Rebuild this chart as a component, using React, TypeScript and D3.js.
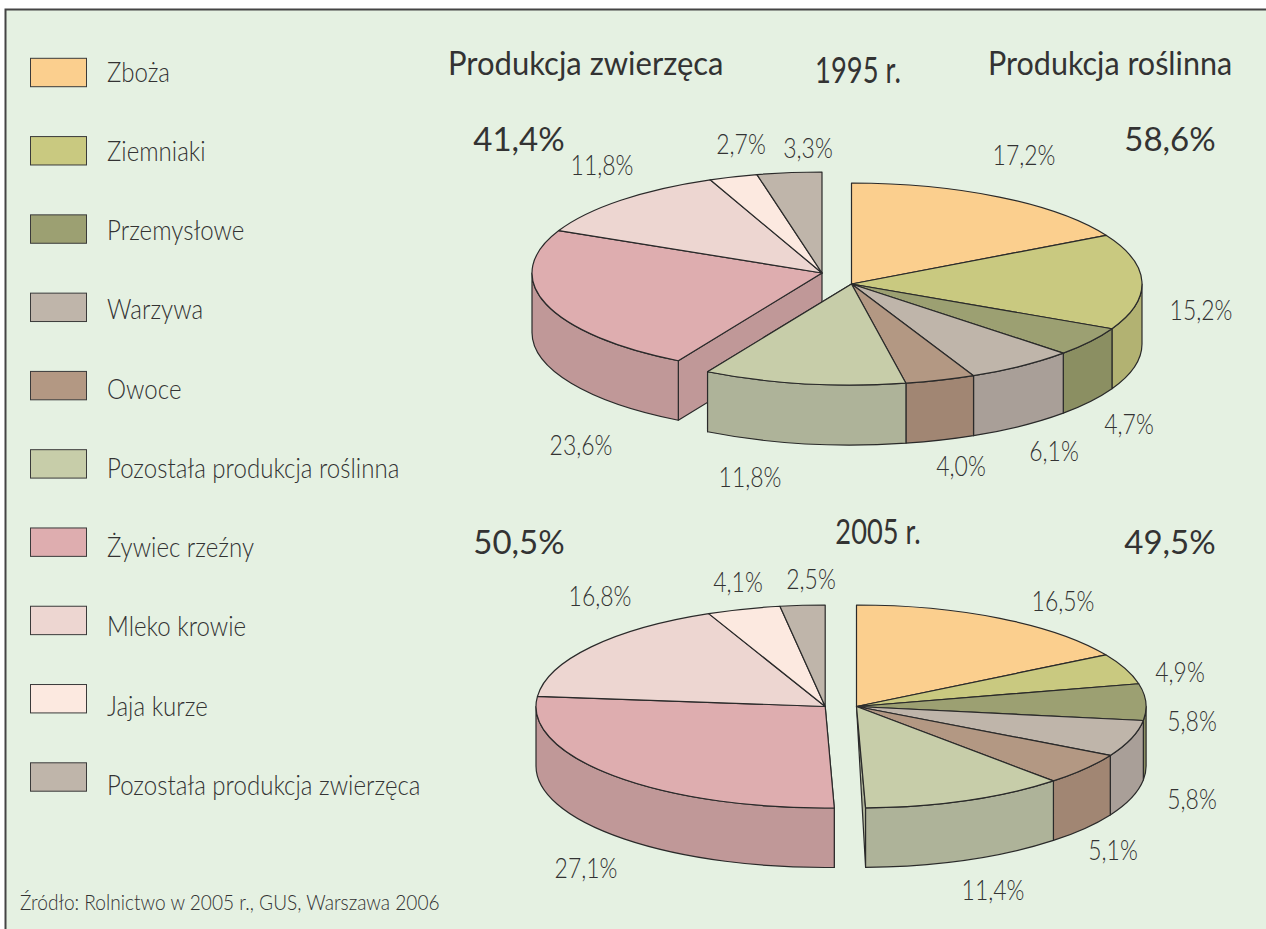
import React from "react";
import * as d3 from "d3";

const legendLabels = ["Zboża", "Ziemniaki", "Przemysłowe", "Warzywa", "Owoce", "Pozostała produkcja roślinna", "Żywiec rzeźny", "Mleko krowie", "Jaja kurze", "Pozostała produkcja zwierzęca"];
const topColors = ["#FBCF8E", "#C9C980", "#9CA072", "#BFB5AA", "#B39883", "#C7CDA9", "#DEADAF", "#EDD6D1", "#FCE9E0", "#BFB5AA"];
const wallColors = ["#E0B878", "#B2B272", "#8B8F62", "#A99F98", "#A18673", "#AEB399", "#C09898", "#D0BBB6", "#E0CFC6", "#A99F98"];

// slice sizes as drawn in the picture (printed percentages are in the label lists)
const plant1995 = [17.0, 15.3, 4.7, 6.1, 3.9, 11.25];
const animal1995 = [23.65, 11.8, 2.7, 3.6];
const plant2005 = [16.5, 4.9, 5.8, 5.8, 5.1, 11.4];
const animal2005 = [27.1, 16.8, 4.1, 2.5];

const labels1995 = ["17,2%", "15,2%", "4,7%", "6,1%", "4,0%", "11,8%", "23,6%", "11,8%", "2,7%", "3,3%"];
const labels2005 = ["16,5%", "4,9%", "5,8%", "5,8%", "5,1%", "11,4%", "27,1%", "16,8%", "4,1%", "2,5%"];
const labelPos1995 = [[1024, 165], [1201, 320], [1129, 434], [1054, 461], [961, 476], [750, 487], [581, 455], [602, 175], [741, 154], [808, 158]];
const labelPos2005 = [[1063, 611], [1180, 682], [1192, 731], [1192, 809], [1113, 860], [993, 900], [586, 878], [600, 606], [738, 592], [811, 589]];

const FONT = "Lato, 'Liberation Sans', sans-serif";
const INK = "#333333";
const angle = d3.scaleLinear().domain([0, 100]).range([0, 2 * Math.PI]);

type Geo = { cx: number; cy: number; rx: number; ry: number; depth: number };

function pt(g: Geo, a: number, down = 0): [number, number] {
  return [g.cx + g.rx * Math.sin(a), g.cy - g.ry * Math.cos(a) + down];
}
function topPath(g: Geo, a0: number, a1: number) {
  return `M${g.cx},${g.cy}L${pt(g, a0)}A${g.rx},${g.ry} 0 ${a1 - a0 > Math.PI ? 1 : 0} 1 ${pt(g, a1)}Z`;
}
function wallPath(g: Geo, a0: number, a1: number) {
  const s = Math.max(a0, Math.PI / 2);
  const e = Math.min(a1, (3 * Math.PI) / 2);
  if (e <= s) return null;
  const A = pt(g, s), B = pt(g, e), C = pt(g, e, g.depth), D = pt(g, s, g.depth);
  return `M${A}A${g.rx},${g.ry} 0 0 1 ${B}L${C}A${g.rx},${g.ry} 0 0 0 ${D}Z`;
}

function Group({ g, values, colorOffset, start, end, face }: { g: Geo; values: number[]; colorOffset: number; start: number; end: number; face: "end" | "start" }) {
  const arcs = d3.pie<number>().sort(null).value((d) => d).startAngle(start).endAngle(end)(values);
  const stroke = { stroke: "#2a2a2a", strokeWidth: 1.2, strokeLinejoin: "round" as const };
  const last = arcs[arcs.length - 1];
  const faceD = face === "start"
    ? `M${g.cx},${g.cy}L${pt(g, start)}L${pt(g, start, g.depth)}L${g.cx},${g.cy + g.depth}Z`
    : `M${g.cx},${g.cy}L${pt(g, last.endAngle)}L${pt(g, last.endAngle, g.depth)}Z`;
  const faceColor = face === "start" ? wallColors[colorOffset] : wallColors[colorOffset + arcs.length - 1];
  return (
    <g>
      <path d={faceD} fill={faceColor} {...stroke} />
      {arcs.map((a, i) => {
        const d = wallPath(g, a.startAngle, a.endAngle);
        return d ? <path key={i} d={d} fill={wallColors[colorOffset + i]} {...stroke} /> : null;
      })}
      {arcs.map((a, i) => (
        <path key={i} d={topPath(g, a.startAngle, a.endAngle)} fill={topColors[colorOffset + i]} {...stroke} />
      ))}
    </g>
  );
}

function Pie3D({ plant, animal, left, right }: { plant: number[]; animal: number[]; left: Geo; right: Geo }) {
  const split = angle(d3.sum(plant));
  return (
    <g>
      <Group g={left} values={animal} colorOffset={6} start={split} end={2 * Math.PI} face="start" />
      <Group g={right} values={plant} colorOffset={0} start={0} end={split} face="end" />
    </g>
  );
}

const legendBoxY = d3.scaleLinear().domain([0, 9]).range([72.5, 777]);
const legendTextY = d3.scaleLinear().domain([0, 9]).range([81.7, 795]);

function T({ s, x, y, size, anchor = "start", weight = 300, sx = 1 }: { s: string; x: number; y: number; size: number; anchor?: string; weight?: number; sx?: number }) {
  return (
    <text transform={`translate(${x},${y}) scale(${sx},1)`} fontSize={size} textAnchor={anchor as any} fontWeight={weight} fontFamily={FONT} fill={INK}>{s}</text>
  );
}

export default function App() {
  return (
    <svg width={1266} height={929} style={{ position: "absolute", left: 0, top: 0, display: "block" }}>
      <rect x={0} y={0} width={1266} height={929} fill="#fff" />
      <rect x={5.5} y={9.5} width={1262} height={922} fill="#E5F1E2" stroke="#444" strokeWidth={2} />
      {legendLabels.map((l, i) => (
        <g key={l}>
          <rect x={30.5} y={legendBoxY(i) - 14.2} width={56} height={28.4} fill={topColors[i]} stroke="#3a3a3a" strokeWidth={1} />
          <T s={l} x={107} y={legendTextY(i)} size={28} sx={0.86} />
        </g>
      ))}
      <Pie3D plant={plant1995} animal={animal1995} left={{ cx: 822, cy: 273, rx: 290, ry: 101, depth: 59.5 }} right={{ cx: 851.5, cy: 284, rx: 290.5, ry: 101, depth: 60 }} />
      <Pie3D plant={plant2005} animal={animal2005} left={{ cx: 825.2, cy: 706.5, rx: 289.2, ry: 101.5, depth: 59.5 }} right={{ cx: 856.5, cy: 706.5, rx: 289.6, ry: 101.5, depth: 59.5 }} />
      {labels1995.map((s, i) => <T key={"a" + i} s={s} x={labelPos1995[i][0]} y={labelPos1995[i][1]} size={27} anchor="middle" sx={0.85} />)}
      {labels2005.map((s, i) => <T key={"b" + i} s={s} x={labelPos2005[i][0]} y={labelPos2005[i][1]} size={27} anchor="middle" sx={0.85} />)}
      <T s="Produkcja zwierzęca" x={448} y={75} size={33} weight={400} sx={0.94} />
      <T s="1995 r." x={858} y={83} size={36} anchor="middle" weight={400} sx={0.76} />
      <T s="Produkcja roślinna" x={988} y={75} size={33} weight={400} sx={0.925} />
      <T s="41,4%" x={519} y={151} size={33} anchor="middle" weight={400} />
      <T s="58,6%" x={1170} y={151} size={33} anchor="middle" weight={400} />
      <T s="2005 r." x={878} y={544} size={34} anchor="middle" weight={400} sx={0.8} />
      <T s="50,5%" x={519} y={554} size={33} anchor="middle" weight={400} />
      <T s="49,5%" x={1170} y={554} size={33} anchor="middle" weight={400} />
      <T s="Źródło: Rolnictwo w 2005 r., GUS, Warszawa 2006" x={20} y={910} size={21} sx={0.91} />
    </svg>
  );
}
